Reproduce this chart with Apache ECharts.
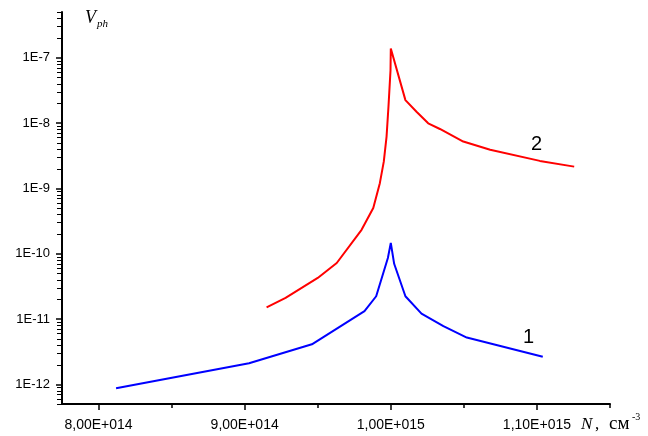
<!DOCTYPE html>
<html>
<head>
<meta charset="utf-8">
<script src="https://cdn.jsdelivr.net/npm/echarts@6/dist/echarts.min.js"></script>
<style>html,body{margin:0;padding:0;background:#fff;}#c{width:648px;height:436px;}</style>
</head>
<body>
<div id="c"></div>
<script>
// Curve 1 (blue)
const n1 = [8.12e14, 9.03e14, 9.46e14, 9.82e14, 9.90e14, 9.98e14, 1.000e15, 1.0023e15, 1.010e15, 1.021e15, 1.036e15, 1.052e15, 1.104e15];
const v1 = [8.7e-13, 2.1e-12, 4.1e-12, 1.32e-11, 2.23e-11, 8.6e-11, 1.46e-10, 7.0e-11, 2.23e-11, 1.21e-11, 7.8e-12, 5.2e-12, 2.65e-12];
// Curve 2 (red)
const n2 = [9.15e14, 9.28e14, 9.50e14, 9.63e14, 9.80e14, 9.88e14, 9.925e14, 9.952e14, 9.971e14, 9.984e14, 9.998e14, 1.000e15, 1.010e15, 1.0176e15, 1.0256e15, 1.0336e15, 1.0496e15, 1.068e15, 1.102e15, 1.1255e15];
const v2 = [1.51e-11, 2.1e-11, 4.25e-11, 7.2e-11, 2.32e-10, 5.0e-10, 1.2e-9, 2.56e-9, 6.2e-9, 1.77e-8, 6.4e-8, 1.38e-7, 2.24e-8, 1.49e-8, 9.9e-9, 8.1e-9, 5.2e-9, 3.9e-9, 2.63e-9, 2.15e-9];
// Axis ticks
const xMajorTicks = [8e14, 9e14, 1e15, 1.1e15];
const xMinorTicks = [8.5e14, 9.5e14, 1.05e15, 1.15e15];
const yMajorTicks = [1e-12, 1e-11, 1e-10, 1e-9, 1e-8, 1e-7];
const yMinorMantissas = [2, 3, 4, 5, 6, 7, 8, 9];
const yMinorExponents = [-13, -12, -11, -10, -9, -8, -7];
const labels = ['1', '2'];

const xMin = 7.75e14, xMax = 1.15e15;
const yMin = 5e-13, yMax = 5e-7;
const yMinorTicks = [];
for (const e of yMinorExponents) {
  for (const m of yMinorMantissas) {
    const v = m * Math.pow(10, e);
    if (v >= yMin * 0.999 && v <= yMax * 1.001) yMinorTicks.push(v);
  }
}

function fmtX(v) {
  const e = Math.floor(Math.log10(v) + 1e-9);
  const m = v / Math.pow(10, e);
  const es = String(Math.abs(e)).padStart(3, '0');
  return m.toFixed(2).replace('.', ',') + 'E' + (e >= 0 ? '+' : '-') + es;
}
function fmtY(v) {
  return '1E' + Math.round(Math.log10(v));
}

const chart = echarts.init(document.getElementById('c'), null, {renderer: 'canvas'});
const axisCol = '#000';
const serif = '"Liberation Serif", "Times New Roman", serif';
const gridOpt = {left: 62, top: 12, right: 38, bottom: 32};
const textGraphics = [
  {id: 't_v', type: 'text', left: 85, top: 9, style: {text: 'V', font: 'italic 18px ' + serif, fill: '#000'}},
  {id: 't_ph', type: 'text', left: 97, top: 19, style: {text: 'ph', font: 'italic 11px ' + serif, fill: '#000'}},
  {id: 't_n', type: 'text', left: 581, top: 416, style: {text: 'N', font: 'italic 17px ' + serif, fill: '#000'}},
  {id: 't_c', type: 'text', left: 595, top: 416, style: {text: ',', font: '17px ' + serif, fill: '#000'}},
  {id: 't_cm', type: 'text', left: 609, top: 415, style: {text: 'см', font: '19px ' + serif, fill: '#000'}},
  {id: 't_e', type: 'text', left: 632, top: 412, style: {text: '-3', font: '10px ' + serif, fill: '#000'}},
  {id: 't_2', type: 'text', left: 531, top: 134, style: {text: labels[1], font: '20px "Liberation Sans", Arial, sans-serif', fill: '#000'}},
  {id: 't_1', type: 'text', left: 523, top: 327, style: {text: labels[0], font: '20px "Liberation Sans", Arial, sans-serif', fill: '#000'}}
];
chart.setOption({
  animation: false,
  backgroundColor: '#fff',
  grid: gridOpt,
  xAxis: [{
    type: 'value', min: xMin, max: xMax, position: 'bottom',
    axisLine: {show: true, onZero: false, lineStyle: {color: axisCol, width: 2}},
    axisTick: {show: true, length: 6, lineStyle: {color: axisCol, width: 1.5}, customValues: xMajorTicks},
    axisLabel: {show: true, margin: 14, color: '#000', fontSize: 14, fontFamily: 'Liberation Sans, Arial, sans-serif', customValues: xMajorTicks, formatter: fmtX},
    splitLine: {show: false}
  }, {
    type: 'value', min: xMin, max: xMax, position: 'bottom',
    axisLine: {show: false, onZero: false},
    axisTick: {show: true, length: 4, lineStyle: {color: axisCol, width: 1.5}, customValues: xMinorTicks},
    axisLabel: {show: false},
    splitLine: {show: false}
  }],
  yAxis: [{
    type: 'log', logBase: 10, min: yMin, max: yMax, position: 'left',
    axisLine: {show: true, onZero: false, lineStyle: {color: axisCol, width: 2}},
    axisTick: {show: true, length: 6, lineStyle: {color: axisCol, width: 1.5}, customValues: yMajorTicks},
    axisLabel: {show: true, margin: 12, color: '#000', fontSize: 13, fontFamily: 'Liberation Sans, Arial, sans-serif', customValues: yMajorTicks, formatter: fmtY},
    splitLine: {show: false}, minorTick: {show: false}
  }],
  series: [{
    type: 'line', name: labels[0],
    data: n1.map((n, i) => [n, v1[i]]),
    showSymbol: false, symbol: 'none', smooth: false,
    lineStyle: {color: '#0000ff', width: 2}, itemStyle: {color: '#0000ff'}
  }, {
    type: 'line', name: labels[1],
    data: n2.map((n, i) => [n, v2[i]]),
    showSymbol: false, symbol: 'none', smooth: false,
    lineStyle: {color: '#ff0000', width: 2}, itemStyle: {color: '#ff0000'}
  }],
  graphic: textGraphics
});

// Minor log ticks on the y axis, positioned through the axis scale
function yPix(v) {
  let p = NaN;
  try { p = chart.convertToPixel({yAxisIndex: 0}, v); } catch (err) {}
  if (!isFinite(p)) {
    // interpolate between the pixel positions of the axis ends (log scale)
    let pMin = NaN, pMax = NaN;
    try {
      pMin = chart.convertToPixel({yAxisIndex: 0}, yMin);
      pMax = chart.convertToPixel({yAxisIndex: 0}, yMax);
    } catch (err) {}
    if (!isFinite(pMin) || !isFinite(pMax)) { pMin = 436 - gridOpt.bottom; pMax = gridOpt.top; }
    const t = (Math.log10(v) - Math.log10(yMin)) / (Math.log10(yMax) - Math.log10(yMin));
    p = pMin + (pMax - pMin) * t;
  }
  return p;
}
let x0 = NaN;
try { x0 = chart.convertToPixel({xAxisIndex: 0}, xMin); } catch (err) {}
if (!isFinite(x0)) x0 = gridOpt.left;
const tickGraphics = yMinorTicks.map((v, i) => {
  const y = Math.round(yPix(v)) + 0.5;
  return {
    id: 'ym' + i, type: 'line', silent: true, z: 100,
    shape: {x1: x0 - 5, y1: y, x2: x0, y2: y},
    style: {stroke: axisCol, lineWidth: 1}
  };
});
chart.setOption({graphic: textGraphics.concat(tickGraphics)});
</script>
</body>
</html>
